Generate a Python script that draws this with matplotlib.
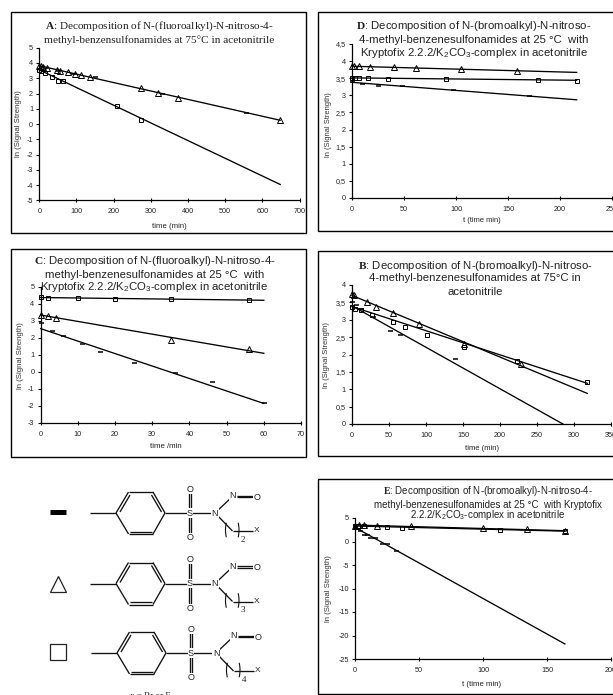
import matplotlib
matplotlib.use("Agg")
import matplotlib.pyplot as plt
from matplotlib.patches import Rectangle, Arc

W, H = 613, 695
plt.rcParams.update({
    "font.family": ["Liberation Sans"],
    "mathtext.fontset": "custom",
    "mathtext.rm": "Liberation Sans",
    "mathtext.bf": "Liberation Serif:bold",
    "mathtext.default": "regular",
})

# ---------- data ----------
A_tri_x = [0, 5, 10, 20, 47, 55, 77, 97, 112, 137, 273, 320, 374, 648]
A_tri_y = [3.8, 3.8, 3.75, 3.7, 3.55, 3.5, 3.4, 3.3, 3.2, 3.05, 2.35, 2.05, 1.7, 0.25]
A_dash_x = [5, 15, 50, 90, 150, 330, 555]
A_dash_y = [3.75, 3.7, 3.5, 3.25, 3.05, 1.95, 0.7]
A_sq_x = [0, 5, 15, 35, 50, 65, 210, 273]
A_sq_y = [3.55, 3.45, 3.35, 3.05, 2.85, 2.8, 1.2, 0.3]
A_fit = [([0, 648], [3.82, 0.25]), ([0, 648], [3.55, -3.95])]

D_tri_x = [0, 2, 7, 17, 40, 62, 105, 159]
D_tri_y = [3.87, 3.85, 3.85, 3.83, 3.82, 3.8, 3.78, 3.72]
D_sq_x = [0, 3, 7, 15, 35, 90, 179, 216]
D_sq_y = [3.5, 3.5, 3.5, 3.5, 3.48, 3.47, 3.44, 3.43]
D_dash_x = [0, 10, 25, 48, 97, 170]
D_dash_y = [3.38, 3.33, 3.28, 3.26, 3.17, 2.97]
D_fit = [([0, 216], [3.85, 3.67]), ([0, 216], [3.51, 3.44]), ([0, 216], [3.38, 2.87])]

C_sq_x = [0, 2, 10, 20, 35, 56]
C_sq_y = [4.4, 4.37, 4.35, 4.3, 4.28, 4.25]
C_tri_x = [0, 2, 4, 35, 56]
C_tri_y = [3.35, 3.27, 3.17, 1.9, 1.35]
C_dash_x = [0, 3, 6, 11, 16, 25, 36, 46, 60]
C_dash_y = [2.9, 2.4, 2.1, 1.65, 1.2, 0.55, -0.05, -0.6, -1.83]
C_fit = [([0, 60], [4.38, 4.22]), ([0, 60], [3.35, 1.1]), ([0, 60], [2.55, -1.85])]

B_tri_x = [0, 3, 20, 33, 55, 90, 152, 228]
B_tri_y = [3.75, 3.7, 3.52, 3.37, 3.2, 2.87, 2.3, 1.72]
B_sq_x = [0, 4, 12, 27, 55, 72, 102, 152, 223, 318]
B_sq_y = [3.38, 3.32, 3.27, 3.13, 2.93, 2.78, 2.57, 2.23, 1.8, 1.22]
B_dash_x = [0, 5, 12, 29, 52, 65, 139]
B_dash_y = [3.5, 3.42, 3.3, 3.07, 2.68, 2.55, 1.88]
B_fit = [([0, 318], [3.7, 0.88]), ([0, 318], [3.38, 1.17]), ([0, 285], [3.4, 0])]

E_tri_x = [0, 3, 7, 17, 44, 100, 134, 164]
E_tri_y = [3.4, 3.5, 3.5, 3.4, 3.3, 2.9, 2.6, 2.3]
E_sq_x = [0, 2, 7, 25, 37, 113, 164]
E_sq_y = [3.3, 3.3, 3.2, 3.05, 2.9, 2.5, 2.2]
E_dash_x = [0, 2, 4, 7, 9, 12, 16, 21, 25, 32]
E_dash_y = [3, 2.6, 2.2, 1.4, 1.3, 0.8, 0.7, -0.5, -0.6, -2]
E_fit = [([0, 164], [3.5, 2.3]), ([0, 164], [3.3, 2.2]), ([0, 164], [3.0, -21.8])]

A_yticks = [5, 4, 3, 2, 1, 0, -1, -2, -3, -4, -5]
D_yticks = [0, .5, 1, 1.5, 2, 2.5, 3, 3.5, 4, 4.5]
C_yticks = [5, 4, 3, 2, 1, 0, -1, -2, -3]
B_yticks = [0, .5, 1, 1.5, 2, 2.5, 3, 3.5, 4]
E_yticks = [5, 0, -5, -10, -15, -20, -25]

fig = plt.figure(figsize=(W / 100, H / 100), dpi=100, facecolor="white")

# overlay in pixel coordinates for frames and the structure drawing
bg = fig.add_axes([0, 0, 1, 1], zorder=0)
bg.set_xlim(0, W); bg.set_ylim(H, 0); bg.axis("off")

frames = [(11, 12, 306, 233.3), (318, 12, 616, 231), (11, 249, 306, 457),
          (318, 250.5, 616, 456), (318, 479, 616, 693.5)]
for x0, y0, x1, y1 in frames:
    bg.add_patch(Rectangle((x0, y0), x1 - x0, y1 - y0, fill=False, ec="black", lw=1.0))


def fmt_comma(v):
    s = f"{v:g}"
    return s.replace(".", ",")


def panel(px, xlim, ylim, xticks, yticks, series, fits, xlabel, title, title_cx, title_ys,
          xlab_x, xlab_y, ylab_x, ylab_y, serif=False, tfs=8.2, lfs=5.6, xpad=5):
    x0, x1, ytop, ybot = px
    ax = fig.add_axes([x0 / W, 1 - ybot / H, (x1 - x0) / W, (ybot - ytop) / H], zorder=2)
    ax.patch.set_alpha(0)
    ax.set_xlim(*xlim); ax.set_ylim(*ylim)
    for s in ("top", "right"):
        ax.spines[s].set_visible(False)
    for s in ("left", "bottom"):
        ax.spines[s].set_linewidth(0.9)
    ax.set_xticks(xticks)
    ax.set_yticks(yticks)
    ax.set_yticklabels([fmt_comma(v) for v in yticks])
    ax.tick_params(axis="both", length=2, width=0.8, labelsize=5.2, color="black",
                   labelcolor="#222222")
    ax.tick_params(axis="x", direction="inout", length=3, pad=xpad - 1)
    ax.tick_params(axis="y", direction="out", pad=2.5)
    for fx, fy in fits:
        ax.plot(fx, fy, color="black", lw=0.95, zorder=2, clip_on=False)
    for kind, sx, sy in series:
        if kind == "tri":
            ax.plot(sx, sy, ls="", marker="^", ms=3.7, mfc="none", mec="black", mew=0.7,
                    clip_on=False, zorder=3)
        elif kind == "sq":
            ax.plot(sx, sy, ls="", marker="s", ms=3.3, mfc="none", mec="black", mew=0.7,
                    clip_on=False, zorder=3)
        else:
            ax.plot(sx, sy, ls="", marker="_", ms=3.6, mfc="none", mec="black", mew=1.1,
                    clip_on=False, zorder=3)
    fam = "Liberation Serif" if serif else "Liberation Sans"
    for line, y in zip(title, title_ys):
        bg.text(title_cx, y, line, ha="center", va="center", fontsize=tfs, family=fam,
                color="#222222", zorder=5)
    bg.text(xlab_x, xlab_y, xlabel, ha="center", va="center", fontsize=lfs, color="#222222")
    bg.text(ylab_x, ylab_y, "ln (Signal Strength)", rotation=90, ha="center",
            va="center", fontsize=lfs, color="#333333")
    return ax


panel((39.3, 299.5, 47.7, 200.5), (0, 700), (-5, 5), range(0, 701, 100), A_yticks,
      [("tri", A_tri_x, A_tri_y), ("dash", A_dash_x, A_dash_y), ("sq", A_sq_x, A_sq_y)], A_fit,
      "time (min)",
      [r"$\mathbf{A}$: Decomposition of N-(fluoroalkyl)-N-nitroso-4-",
       "methyl-benzensulfonamides at 75°C in acetonitrile"],
      159, [26, 40], 169, 226.5, 19, 124, serif=True, tfs=8.1, xpad=5)

panel((352, 612, 44, 198), (0, 250), (0, 4.5), range(0, 251, 50), D_yticks,
      [("tri", D_tri_x, D_tri_y), ("sq", D_sq_x, D_sq_y), ("dash", D_dash_x, D_dash_y)], D_fit,
      "t (time min)",
      [r"$\mathbf{D}$: Decomposition of N-(bromoalkyl)-N-nitroso-",
       "4-methyl-benzenesulfonamides at 25 °C  with",
       "Kryptofix 2.2.2/K$_2$CO$_3$-complex in acetonitrile"],
      474, [26, 40, 53.5], 482, 220, 328.5, 125, lfs=5.4)

panel((40.7, 301, 287, 423), (0, 70), (-3, 5), range(0, 71, 10), C_yticks,
      [("sq", C_sq_x, C_sq_y), ("tri", C_tri_x, C_tri_y), ("dash", C_dash_x, C_dash_y)], C_fit,
      "time /min",
      [r"$\mathbf{C}$: Decomposition of N-(fluoroalkyl)-N-nitroso-4-",
       "methyl-benzenesulfonamides at 25 °C  with",
       "Kryptofix 2.2.2/K$_2$CO$_3$-complex in acetonitrile"],
      154.5, [261, 274.5, 287.5], 166, 446, 21, 356)

panel((352, 611, 285, 424), (0, 350), (0, 4), range(0, 351, 50), B_yticks,
      [("tri", B_tri_x, B_tri_y), ("sq", B_sq_x, B_sq_y), ("dash", B_dash_x, B_dash_y)], B_fit,
      "time (min)",
      [r"$\mathbf{B}$: Decomposition of N-(bromoalkyl)-N-nitroso-",
       "4-methyl-benzenesulfonamides at 75°C in",
       "acetonitrile"],
      475, [266, 278, 292], 482, 448, 326, 355, lfs=5.5)

panel((355, 611, 518, 659), (0, 200), (-25, 5), range(0, 201, 50), E_yticks,
      [("tri", E_tri_x, E_tri_y), ("sq", E_sq_x, E_sq_y), ("dash", E_dash_x, E_dash_y)], E_fit,
      "t (time min)",
      [r"$\mathbf{E}$: Decomposition of N-(bromoalkyl)-N-nitroso-4-",
       "methyl-benzenesulfonamides at 25 °C  with Kryptofix",
       "2.2.2/K$_2$CO$_3$-complex in acetonitrile"],
      488, [491, 505, 515.5], 482, 684, 328, 589, tfs=7.0)


# ---------- structure drawing ----------
def seg(x0, y0, x1, y1, lw=0.95):
    bg.plot([x0, x1], [y0, y1], color="#111111", lw=lw, solid_capstyle="butt")


def lab(x, y, s, fs=6.5):
    bg.text(x, y, s, ha="center", va="center", fontsize=fs, family="Liberation Sans", color="#222222",
            bbox=dict(fc="white", ec="none", pad=0.3), zorder=4)


def structure(dx, y, n):
    seg(90 + dx, y, 116 + dx, y)
    hexv = [(116, 0), (128.5, -21), (153, -21), (165, 0), (153, 21), (128.5, 21)]
    for i in range(6):
        a, b = hexv[i], hexv[(i + 1) % 6]
        seg(a[0] + dx, a[1] + y, b[0] + dx, b[1] + y)
    seg(120 + dx, -1 + y, 130 + dx, -18 + y)
    seg(151.5 + dx, -18 + y, 161.5 + dx, -1 + y)
    seg(130 + dx, 18.5 + y, 151.5 + dx, 18.5 + y)
    seg(165 + dx, y, 190 + dx, y)
    seg(190 + dx, y, 215 + dx, y)
    for off in (-0.9, 0.9):
        seg(190 + off + dx, y - 22, 190 + off + dx, y + 22)
        seg(237 + dx, y - 16.5 + off, 253 + dx, y - 16.5 + off)
    lab(190 + dx, y, "S")
    lab(190 + dx, y - 24, "O")
    lab(190 + dx, y + 25, "O")
    seg(215 + dx, y, 232.5 + dx, y - 16.5)
    seg(215 + dx, y, 232.5 + dx, y + 18)
    seg(232.5 + dx, y + 18, 253 + dx, y + 18)
    lab(215 + dx, y, "N")
    lab(232.7 + dx, y - 17, "N")
    lab(257 + dx, y - 16, "O")
    lab(257 + dx, y + 18, "X", 6)
    bg.add_patch(Arc((229 + dx, y + 17), 7, 22, theta1=110, theta2=250, ec="#111111", lw=0.8))
    bg.add_patch(Arc((235.5 + dx, y + 17), 7, 22, theta1=-70, theta2=70, ec="#111111", lw=0.8))
    bg.text(243 + dx, y + 27, n, ha="center", va="center", fontsize=6.5, family="Liberation Serif", color="#222222")


structure(0, 513, "2")
structure(0, 583.5, "3")
structure(1, 653, "4")

# legend key
bg.plot([57.5], [511.7], marker="_", ms=11, mew=3.6, color="black", ls="")
bg.plot([57.5], [584], marker="^", ms=11, mfc="none", mec="#222222", mew=0.9, ls="")
bg.plot([57.5], [651.7], marker="s", ms=11, mfc="none", mec="#222222", mew=0.9, ls="")
bg.text(150, 695.5, "x = Br or F", ha="center", va="center", fontsize=6.5, family="Liberation Serif", color="#222222")

fig.savefig("out.png", dpi=100)
